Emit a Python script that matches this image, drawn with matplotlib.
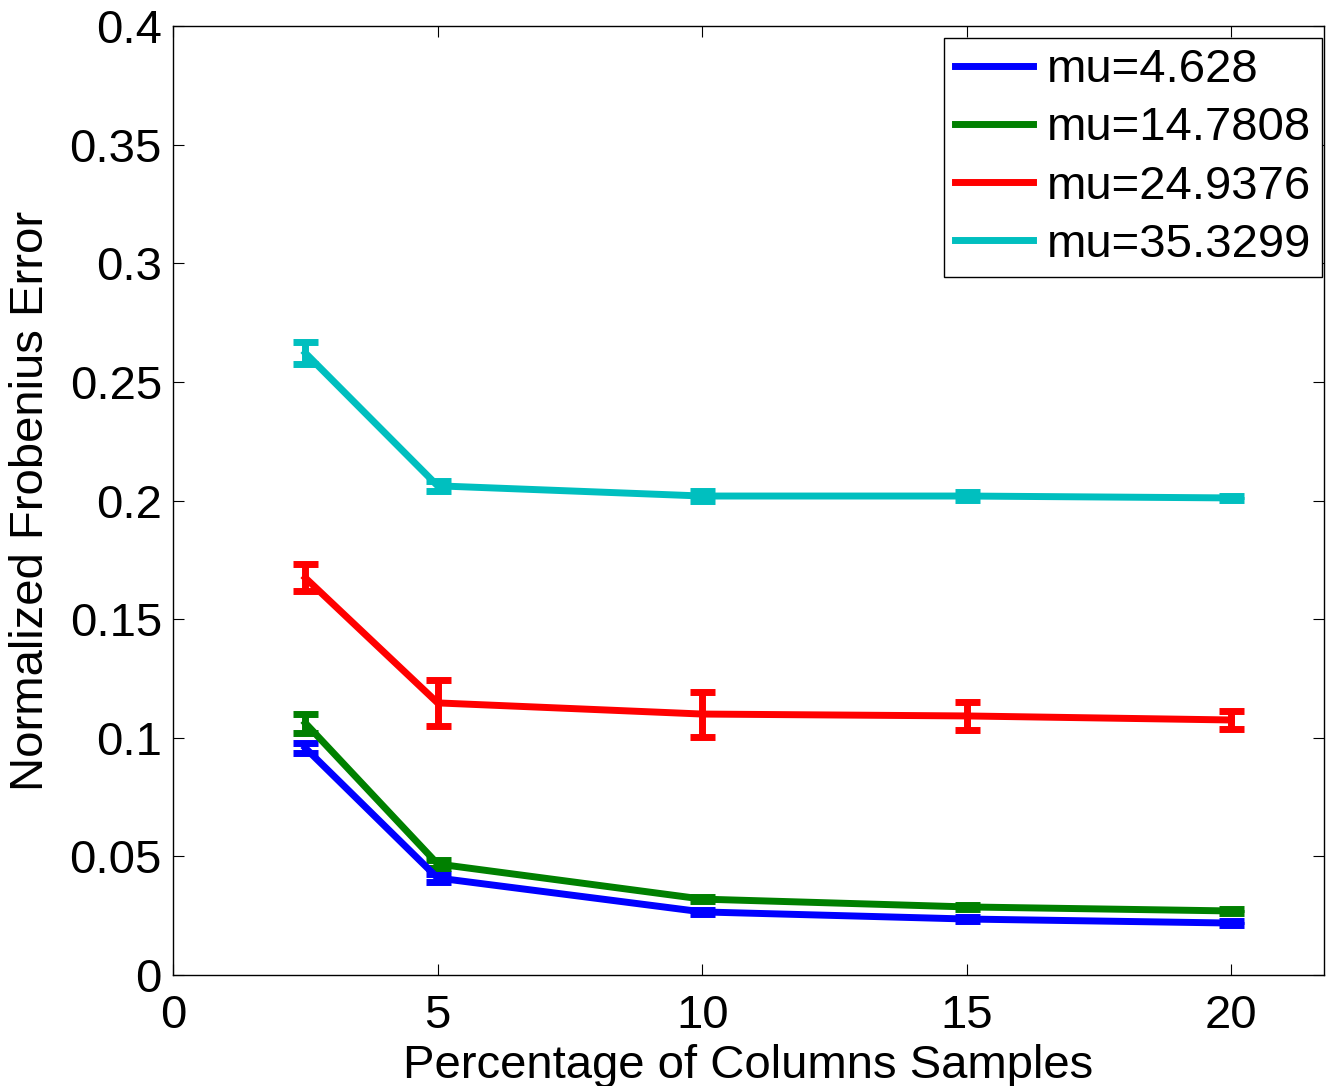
import numpy as np
import matplotlib.pyplot as plt
from matplotlib.lines import Line2D

plt.rcParams['font.family'] = ['Liberation Sans', 'DejaVu Sans']

# data
pct = [2.5, 5, 10, 15, 20]
labels = ["mu=4.628", "mu=14.7808", "mu=24.9376", "mu=35.3299"]
colors = ["#0000ff", "#008000", "#ff0000", "#00bfbf"]

err_mu1 = [0.0957, 0.0409, 0.0266, 0.0236, 0.0219]
err_mu2 = [0.1062, 0.0468, 0.0320, 0.0287, 0.0270]
err_mu3 = [0.1674, 0.1147, 0.1100, 0.1092, 0.1075]
err_mu4 = [0.2622, 0.2062, 0.2019, 0.2019, 0.2011]

std_mu1 = [0.0020, 0.0015, 0.0010, 0.0008, 0.0008]
std_mu2 = [0.0040, 0.0015, 0.0010, 0.0008, 0.0008]
std_mu3 = [0.0057, 0.0097, 0.0095, 0.0060, 0.0036]
std_mu4 = [0.0045, 0.0020, 0.0020, 0.0015, 0.0010]

series = [err_mu1, err_mu2, err_mu3, err_mu4]
stds = [std_mu1, std_mu2, std_mu3, std_mu4]

fig = plt.figure(figsize=(13.26, 10.86), dpi=100)
ax = fig.add_axes([0.1305, 0.1022, 0.868, 0.8738])

for y, s, c in zip(series, stds, colors):
    ax.errorbar(pct, y, yerr=s, color=c, lw=5, elinewidth=5,
                capsize=9, capthick=5)

ax.set_xlim(0, 21.75)
ax.set_ylim(0, 0.4)
ax.set_xticks([0, 5, 10, 15, 20])
ax.set_yticks(np.arange(0, 0.401, 0.05))
ax.set_yticklabels(["0", "0.05", "0.1", "0.15", "0.2", "0.25", "0.3", "0.35", "0.4"])
ax.tick_params(direction='in', top=True, right=True, labelsize=34, length=8)
ax.tick_params(axis='x', pad=14)
ax.tick_params(axis='y', pad=8)
for sp in ax.spines.values():
    sp.set_linewidth(1)

ax.set_xlabel("Percentage of Columns Samples", fontsize=34, labelpad=4)
ax.set_ylabel("Normalized Frobenius Error", fontsize=34, labelpad=12)

handles = [Line2D([], [], color=c, lw=5) for c in colors]
leg = ax.legend(handles, labels, loc='upper right', fontsize=34, handlelength=1.65,
                handletextpad=0.3, labelspacing=0.3, borderpad=0.22, fancybox=False,
                framealpha=1, edgecolor='black', borderaxespad=0.05,
                bbox_to_anchor=(1.0, 0.99))
leg.get_frame().set_linewidth(1)

fig.savefig("out.png", dpi=100)
